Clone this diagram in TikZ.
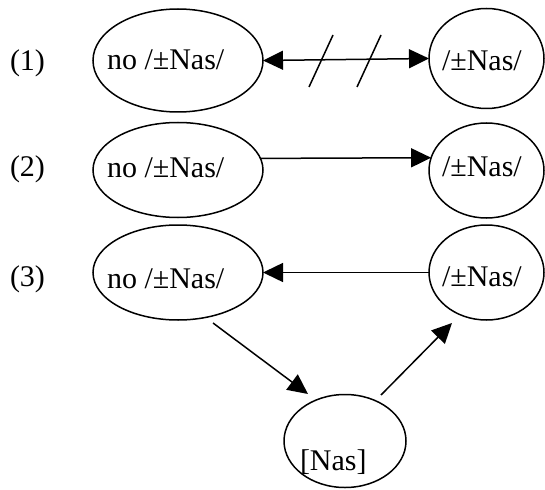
\documentclass[tikz,border=0pt]{standalone}
\usepackage{fontspec}
\setmainfont{Liberation Serif}
\usetikzlibrary{arrows.meta,shapes.geometric}
\tikzset{
  ell/.style={draw, ellipse, line width=1.5pt, inner sep=0pt, outer sep=0pt},
  bigell/.style={ell, minimum width=170pt, minimum height=95pt},
  smallell/.style={ell, minimum width=115pt, minimum height=95pt},
  txt/.style={inner sep=0pt, outer sep=0pt, anchor=base west, font=\fontsize{30}{36}\selectfont},
  arr/.style={line width=1.5pt, -{Triangle[length=20pt,width=19pt]}},
  darr/.style={line width=1.5pt, {Triangle[length=20pt,width=19pt]}-{Triangle[length=20pt,width=19pt]}},
  slash/.style={line width=1.5pt}
}
\begin{document}
\begin{tikzpicture}[x=1pt,y=-1pt]
\useasboundingbox (0,0) rectangle (545,489);
% row labels
\node[txt] (lab1) at (10,70.5) {(1)};
\node[txt] (lab2) at (10,176.5) {(2)};
\node[txt] (lab3) at (10,286.5) {(3)};
% row 1
\node[bigell, minimum height=103pt] (l1) at (178,60.5) {};
\node[smallell, minimum height=100pt] (r1) at (486.5,58.5) {};
\node[txt] (t1l) at (107,70) {no /±Nas/};
\node[txt] (t1r) at (442,71) {/±Nas/};
\draw[darr] (l1.east) -- (r1.west);
\draw[slash] (309,87) -- (333,35);
\draw[slash] (357,87) -- (381,35);
% row 2
\node[bigell] (l2) at (178,170) {};
\node[smallell] (r2) at (486.5,170.5) {};
\node[txt] (t2l) at (107,177) {no /±Nas/};
\node[txt] (t2r) at (442,176) {/±Nas/};
\draw[arr] (l2.8.3) -- (r2.167.3);
% row 3
\node[bigell] (l3) at (178,272.5) {};
\node[smallell] (r3) at (486.5,272.5) {};
\node[txt] (t3l) at (107,288) {no /±Nas/};
\node[txt] (t3r) at (442,286) {/±Nas/};
\draw[arr] (r3.west) -- (l3.east);
% bottom node
\node[ell, minimum width=122pt, minimum height=93pt] (nas) at (345,441) {};
\node[txt] (tnas) at (300,470) {[Nas]};
\coordinate (d1s) at (213,323);
\coordinate (d1e) at (308,394);
\coordinate (d2s) at (381,395);
\coordinate (d2e) at (452,323);
\draw[arr] (d1s) -- (d1e);
\draw[arr] (d2s) -- (d2e);
\end{tikzpicture}
\end{document}
